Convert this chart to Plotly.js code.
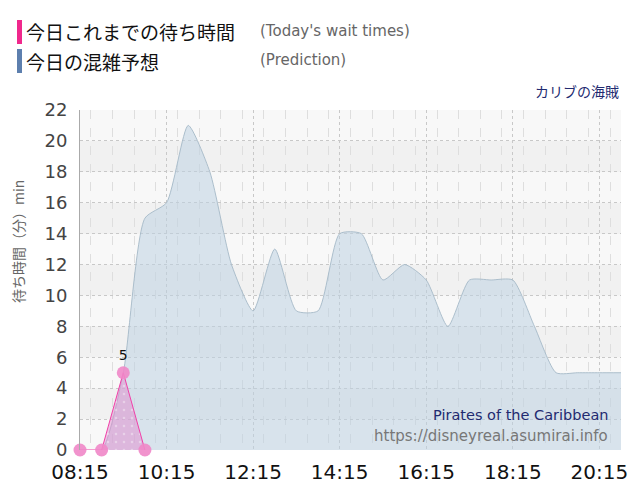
<!DOCTYPE html>
<html>
<head>
<meta charset="utf-8">
<script src="https://cdn.plot.ly/plotly-3.0.1.min.js"></script>
<style>
  html, body { margin: 0; padding: 0; background: #fff; }
  #chart { width: 640px; height: 500px; }
</style>
</head>
<body>
<div id="chart"></div>
<script>
const day = "2024-01-01 ";

// prediction (30 min steps)
const predTimes = [
  "08:15", "08:45", "09:15", "09:45", "10:15", "10:45", "11:15", "11:45",
  "12:15", "12:45", "13:15", "13:45", "14:15", "14:45", "15:15", "15:45",
  "16:15", "16:45", "17:15", "17:45", "18:15", "18:45", "19:15", "19:45",
  "20:15", "20:45",
];
const predWait = [
  0, 0, 5, 15, 16, 21, 18, 12, 9, 13, 9, 9, 14, 14, 11, 12, 11, 8, 11, 11, 11,
  8, 5, 5, 5, 5,
];

// today's actual wait times
const actualTimes = ["08:15", "08:45", "09:15", "09:45"];
const actualWait = [0, 0, 5, 0];

const yTicks = [0, 2, 4, 6, 8, 10, 12, 14, 16, 18, 20, 22];
const font = "DejaVu Sans, Verdana, sans-serif";
const jpFont = "Noto Sans CJK JP, sans-serif";

const toDate = (t) => day + t;

const predTrace = {
  x: predTimes.map(toDate),
  y: predWait,
  type: "scatter",
  mode: "lines",
  line: { shape: "spline", smoothing: 0.6, color: "rgba(165,185,200,0.9)", width: 1 },
  fill: "tozeroy",
  fillcolor: "rgba(190,210,225,0.55)",
  hoverinfo: "x+y",
};

const actualTrace = {
  x: actualTimes.map(toDate),
  y: actualWait,
  type: "scatter",
  mode: "lines+markers+text",
  text: actualWait.map((v) => (v > 0 ? String(v) : "")),
  textposition: "top center",
  textfont: { family: font, size: 14, color: "#111" },
  line: { color: "#f040a8", width: 1 },
  marker: { size: 13, color: "rgba(240,135,200,0.9)" },
  fill: "tozeroy",
  fillcolor: "rgba(225,140,205,0.5)",
  fillpattern: {
    shape: ".",
    bgcolor: "rgba(225,140,205,0.5)",
    fgcolor: "rgba(255,255,255,0.35)",
    size: 8,
    solidity: 0.08,
  },
  cliponaxis: false,
  hoverinfo: "x+y",
};

const px = (v) => (v - 80) / 541; // left px -> paper x
const py = (v) => (450 - v) / 340; // top px -> paper y

// alternating horizontal bands
const shapes = [];
for (let i = 0; i < yTicks.length - 1; i++) {
  if (i % 2 === 1) {
    shapes.push({
      type: "rect", xref: "paper", yref: "y", layer: "below",
      x0: 0, x1: 1, y0: yTicks[i], y1: yTicks[i + 1],
      fillcolor: "#f1f1f1", line: { width: 0 },
    });
  }
}
// legend bars
shapes.push(
  { type: "rect", xref: "paper", yref: "paper", x0: px(17), x1: px(22), y0: py(44), y1: py(20),
    fillcolor: "#f0288c", line: { width: 0 } },
  { type: "rect", xref: "paper", yref: "paper", x0: px(17), x1: px(22), y0: py(73), y1: py(49),
    fillcolor: "#5d7fae", line: { width: 0 } }
);

const annotations = [
  { text: "今日これまでの待ち時間", x: px(24), y: py(32), xanchor: "left", yanchor: "middle",
    font: { family: jpFont, size: 19, color: "#111" } },
  { text: "今日の混雑予想", x: px(24), y: py(61), xanchor: "left", yanchor: "middle",
    font: { family: jpFont, size: 19, color: "#111" } },
  { text: "(Today's wait times)", x: px(258), y: py(31), xanchor: "left", yanchor: "middle",
    font: { family: font, size: 15, color: "#666" } },
  { text: "(Prediction)", x: px(258), y: py(60), xanchor: "left", yanchor: "middle",
    font: { family: font, size: 15, color: "#666" } },
  { text: "カリブの海賊", x: px(621), y: py(91), xanchor: "right", yanchor: "middle",
    font: { family: jpFont, size: 14, color: "#222a70" } },
  { text: "待ち時間（分）min", x: px(18), y: py(242), xanchor: "center", yanchor: "middle",
    textangle: -90, font: { family: jpFont, size: 14, color: "#666" } },
  { text: "Pirates of the Caribbean", x: px(610), y: py(415), xanchor: "right", yanchor: "middle",
    font: { family: font, size: 14.5, color: "#222a70" } },
  { text: "https://disneyreal.asumirai.info", x: px(610), y: py(436), xanchor: "right", yanchor: "middle",
    font: { family: font, size: 15, color: "#777" } },
].map((a) => Object.assign({ xref: "paper", yref: "paper", showarrow: false }, a));

const layout = {
  width: 640,
  height: 500,
  margin: { t: 110, b: 50, l: 80, r: 19 },
  paper_bgcolor: "#fff",
  plot_bgcolor: "#f8f8f8",
  showlegend: false,
  shapes: shapes,
  annotations: annotations,
  xaxis: {
    type: "date",
    range: [toDate("08:15"), toDate("20:45")],
    tick0: toDate("08:15"),
    dtick: 7200000,
    tickformat: "%H:%M",
    tickfont: { family: font, size: 20, color: "#111" },
    ticklabelstandoff: 8,
    showgrid: true,
    gridcolor: "#c8c8c8",
    griddash: "dot",
    minor: { dtick: 1800000, showgrid: true, gridcolor: "#dedede", griddash: "dash" },
    zeroline: false,
    showline: false,
    fixedrange: true,
  },
  yaxis: {
    range: [0, 22],
    tickvals: yTicks,
    tickfont: { family: font, size: 18, color: "#444" },
    ticklabelstandoff: 8,
    gridcolor: "#c8c8c8",
    griddash: "dot",
    zeroline: false,
    showline: true,
    linecolor: "#aaa",
    linewidth: 1,
    fixedrange: true,
  },
};

Plotly.newPlot("chart", [predTrace, actualTrace], layout, {
  displayModeBar: false,
  staticPlot: true,
});
</script>
</body>
</html>
